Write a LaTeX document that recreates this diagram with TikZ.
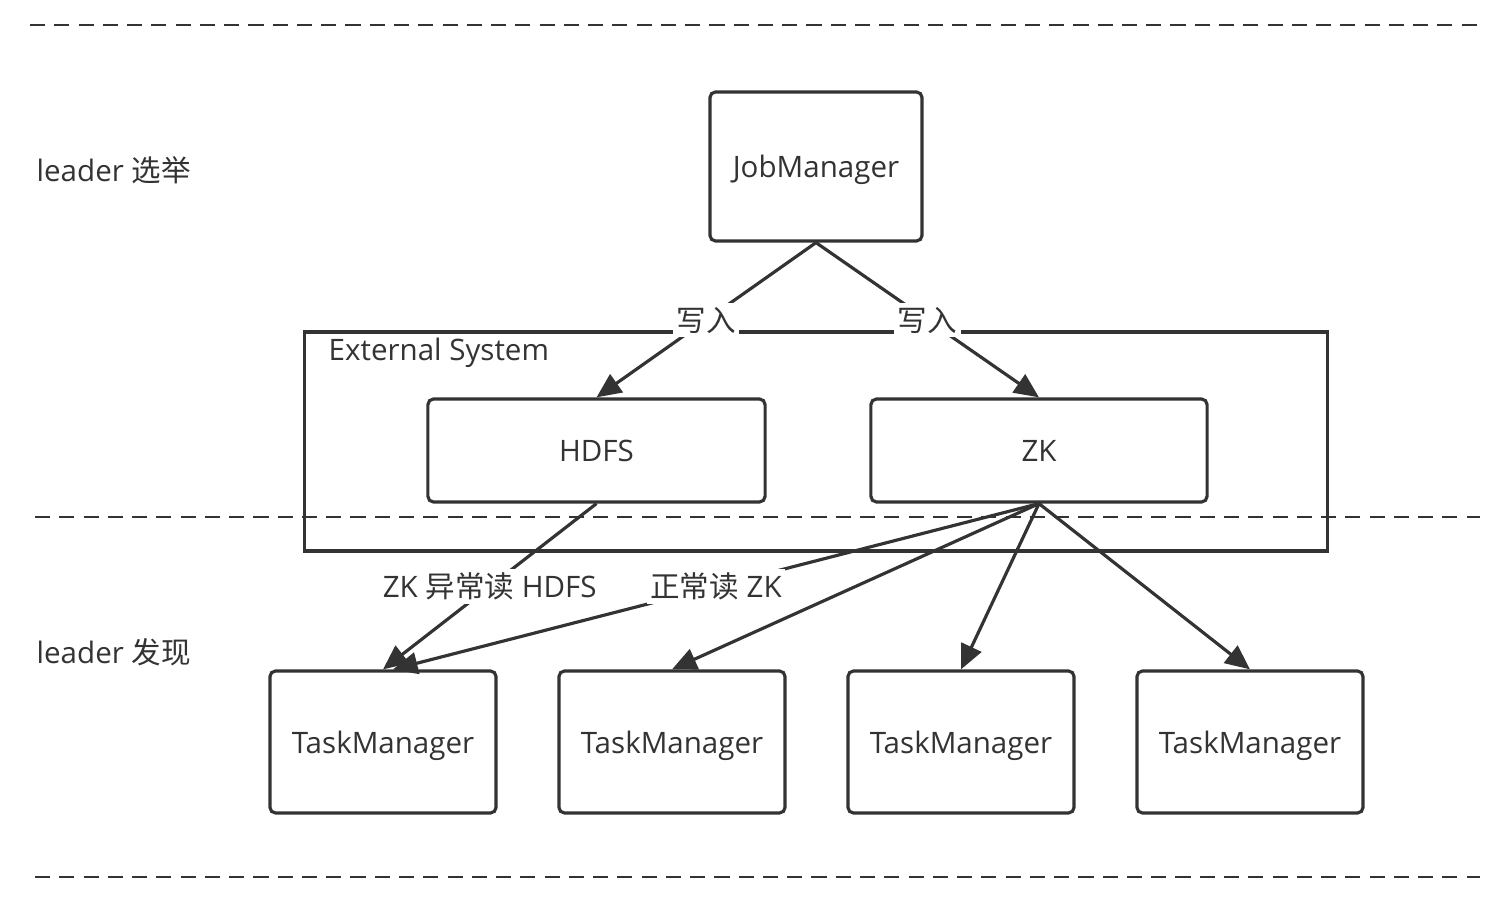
\documentclass[tikz,border=0pt]{standalone}
\usepackage{fontspec}
\setmainfont{Open Sans}
\newfontfamily\cjk{Noto Sans CJK SC}
\usetikzlibrary{arrows.meta}
\definecolor{ink}{HTML}{333333}

\begin{document}
\begin{tikzpicture}[
  x=0.01cm, y=-0.01cm,
  font=\fontsize{8.4}{10}\selectfont,
  box/.style={rectangle, draw=ink, line width=0.9pt, rounded corners=1.6pt, text=ink, align=center, inner sep=0pt, text depth=0pt},
  sysbox/.style={rectangle, draw=ink, line width=0.9pt, inner sep=0pt},
  arrow/.style={-{Triangle[length=7pt, width=6.2pt]}, draw=ink, line width=0.9pt},
  lbl/.style={fill=white, text=ink, inner sep=1pt},
  side/.style={anchor=west, text=ink, inner sep=0pt},
  sep/.style={draw=ink, line width=0.6pt, dash pattern=on 4.3pt off 2.6pt}
]
\useasboundingbox (0,0) rectangle (1508,910);

% layer separators
\draw[sep] (30,25) -- (1480,25);
\draw[sep] (35,517) -- (1480,517);
\draw[sep] (35,877) -- (1480,877);

\node[side] (lelect) at (36,170) {leader {\cjk 选举}};
\node[side] (lfind) at (36,652) {leader {\cjk 发现}};

% external system
\node[sysbox, minimum width=10.22cm, minimum height=2.19cm] (ext) at (816,441.5) {};
\node[side] (extlabel) at (328,353) {External System};

\node[box, minimum width=2.12cm, minimum height=1.49cm] (jm) at (816,166.5) {JobManager};
\node[box, minimum width=3.37cm, minimum height=1.03cm] (hdfs) at (596.5,450.5) {HDFS};
\node[box, minimum width=3.36cm, minimum height=1.03cm] (zk) at (1039,450.5) {ZK};

\node[box, minimum width=2.26cm, minimum height=1.42cm] (tm1) at (383,742) {TaskManager};
\node[box, minimum width=2.26cm, minimum height=1.42cm] (tm2) at (672,742) {TaskManager};
\node[box, minimum width=2.26cm, minimum height=1.42cm] (tm3) at (961,742) {TaskManager};
\node[box, minimum width=2.26cm, minimum height=1.42cm] (tm4) at (1250,742) {TaskManager};

% write
\draw[arrow] (jm.south) -- node[lbl] {\cjk 写入} (hdfs.north);
\draw[arrow] (jm.south) -- node[lbl] {\cjk 写入} (zk.north);

% read
\draw[arrow] (hdfs.south) -- node[lbl] {ZK {\cjk 异常读} HDFS} (tm1.north);
\draw[arrow] (zk.south) -- node[lbl] {{\cjk 正常读} ZK} ([xshift=0.1cm]tm1.north);
\draw[arrow] (zk.south) -- (tm2.north);
\draw[arrow] (zk.south) -- (tm3.north);
\draw[arrow] (zk.south) -- (tm4.north);

\end{tikzpicture}
\end{document}
